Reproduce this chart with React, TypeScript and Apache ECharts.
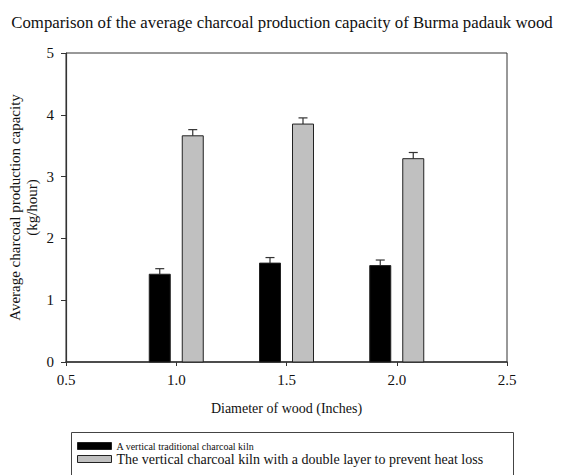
import React, { useEffect, useRef } from "react";
import * as echarts from "echarts";

const diameters = [1.0, 1.5, 2.0];
const traditional = [1.42, 1.6, 1.56];
const traditionalErr = [0.09, 0.09, 0.09];
const doubleLayer = [3.66, 3.85, 3.29];
const doubleLayerErr = [0.1, 0.1, 0.1];
const xTicks = [0.5, 1.0, 1.5, 2.0, 2.5];
const yTicks = [0, 1, 2, 3, 4, 5];

const seriesNames = [
  "A vertical traditional charcoal kiln",
  "The vertical charcoal kiln with a double layer to prevent heat loss",
];

const FONT = "'Liberation Serif', 'Times New Roman', serif";

function makeRender(offset: number, fill: string) {
  return (params: any, api: any) => {
    const x = api.value(0);
    const y = api.value(1);
    const err = api.value(2);
    const base = api.coord([x, 0]);
    const top = api.coord([x, y]);
    const cap = api.coord([x, y + err]);
    const cx = base[0] + offset;
    const w = 21;
    return {
      type: "group",
      children: [
        {
          type: "line",
          shape: { x1: cx, y1: top[1], x2: cx, y2: cap[1] },
          style: { stroke: "#333", lineWidth: 1.2 },
        },
        {
          type: "line",
          shape: { x1: cx - 4.5, y1: cap[1], x2: cx + 4.5, y2: cap[1] },
          style: { stroke: "#333", lineWidth: 1.2 },
        },
        {
          type: "rect",
          shape: { x: cx - w / 2, y: top[1], width: w, height: base[1] - top[1] },
          style: { fill, stroke: "#222", lineWidth: 1 },
        },
      ],
    };
  };
}

export default function App() {
  const ref = useRef<HTMLDivElement>(null);
  useEffect(() => {
    if (!ref.current) return;
    const chart = echarts.init(ref.current, null, { renderer: "svg" });
    const option: any = {
      animation: false,
      backgroundColor: "#fff",
      textStyle: { fontFamily: FONT, color: "#111" },
      title: {
        text: "Comparison of the average charcoal production capacity of Burma padauk wood",
        left: "center",
        top: 9,
        textStyle: { fontFamily: FONT, fontSize: 16.8, fontWeight: "normal", color: "#111" },
      },
      grid: {
        left: 66,
        right: 57,
        top: 53,
        bottom: 113,
        outerBoundsMode: "none",
        containLabel: false,
        show: true,
        borderColor: "#333",
        borderWidth: 1,
        backgroundColor: "transparent",
      },
      xAxis: {
        type: "value",
        min: xTicks[0],
        max: xTicks[xTicks.length - 1],
        interval: 0.5,
        name: "Diameter of wood (Inches)",
        nameLocation: "middle",
        nameGap: 39,
        nameMoveOverlap: false,
        nameTextStyle: { fontFamily: FONT, fontSize: 14, color: "#111" },
        axisLine: { show: true, lineStyle: { color: "#333", width: 1.5 } },
        axisTick: { show: true, inside: false, length: 4, lineStyle: { color: "#333" } },
        axisLabel: {
          margin: 10,
          fontFamily: FONT,
          fontSize: 15,
          color: "#111",
          formatter: (v: number) => v.toFixed(1),
        },
        splitLine: { show: false },
      },
      yAxis: {
        type: "value",
        min: yTicks[0],
        max: yTicks[yTicks.length - 1],
        interval: 1,
        name: "Average charcoal production capacity\n(kg/hour)",
        nameLocation: "middle",
        nameGap: 26,
        nameMoveOverlap: false,
        nameRotate: 90,
        nameTextStyle: { fontFamily: FONT, fontSize: 15, color: "#111", lineHeight: 17, align: "center" },
        axisLine: { show: true, lineStyle: { color: "#333", width: 1.2 } },
        axisTick: { show: true, inside: false, length: 5, lineStyle: { color: "#333" } },
        axisLabel: { margin: 12, fontFamily: FONT, fontSize: 15, color: "#111" },
        splitLine: { show: false },
      },
      legend: {
        orient: "vertical",
        left: 69,
        top: 430,
        height: 42,
        padding: [11, 28, 0, 8],
        itemWidth: 34,
        itemHeight: 7,
        itemGap: 1,
        icon: "rect",
        data: [
          {
            name: seriesNames[0],
            itemStyle: { color: "#000", borderColor: "#222", borderWidth: 1 },
            textStyle: { fontFamily: FONT, fontSize: 10, color: "#111" },
          },
          {
            name: seriesNames[1],
            itemStyle: { color: "#c0c0c0", borderColor: "#222", borderWidth: 1 },
            textStyle: { fontFamily: FONT, fontSize: 14, color: "#111" },
          },
        ],
      },
      graphic: [
        {
          type: "rect",
          left: 69,
          top: 430,
          shape: { width: 442, height: 60 },
          style: { fill: "none", stroke: "#444", lineWidth: 1 },
          silent: true,
        },
      ],
      series: [
        {
          type: "custom",
          name: seriesNames[0],
          itemStyle: { color: "#000", borderColor: "#222" },
          renderItem: makeRender(-16.5, "#000"),
          data: diameters.map((d, i) => [d, traditional[i], traditionalErr[i]]),
          encode: { x: 0, y: 1 },
          clip: false,
        },
        {
          type: "custom",
          name: seriesNames[1],
          itemStyle: { color: "#c0c0c0", borderColor: "#222" },
          renderItem: makeRender(16.5, "#c0c0c0"),
          data: diameters.map((d, i) => [d, doubleLayer[i], doubleLayerErr[i]]),
          encode: { x: 0, y: 1 },
          clip: false,
        },
      ],
    };
    chart.setOption(option);
    return () => chart.dispose();
  }, []);
  return (
    <div
      ref={ref}
      style={{ position: "fixed", left: 0, top: 0, width: 564, height: 475, background: "#fff" }}
    />
  );
}
